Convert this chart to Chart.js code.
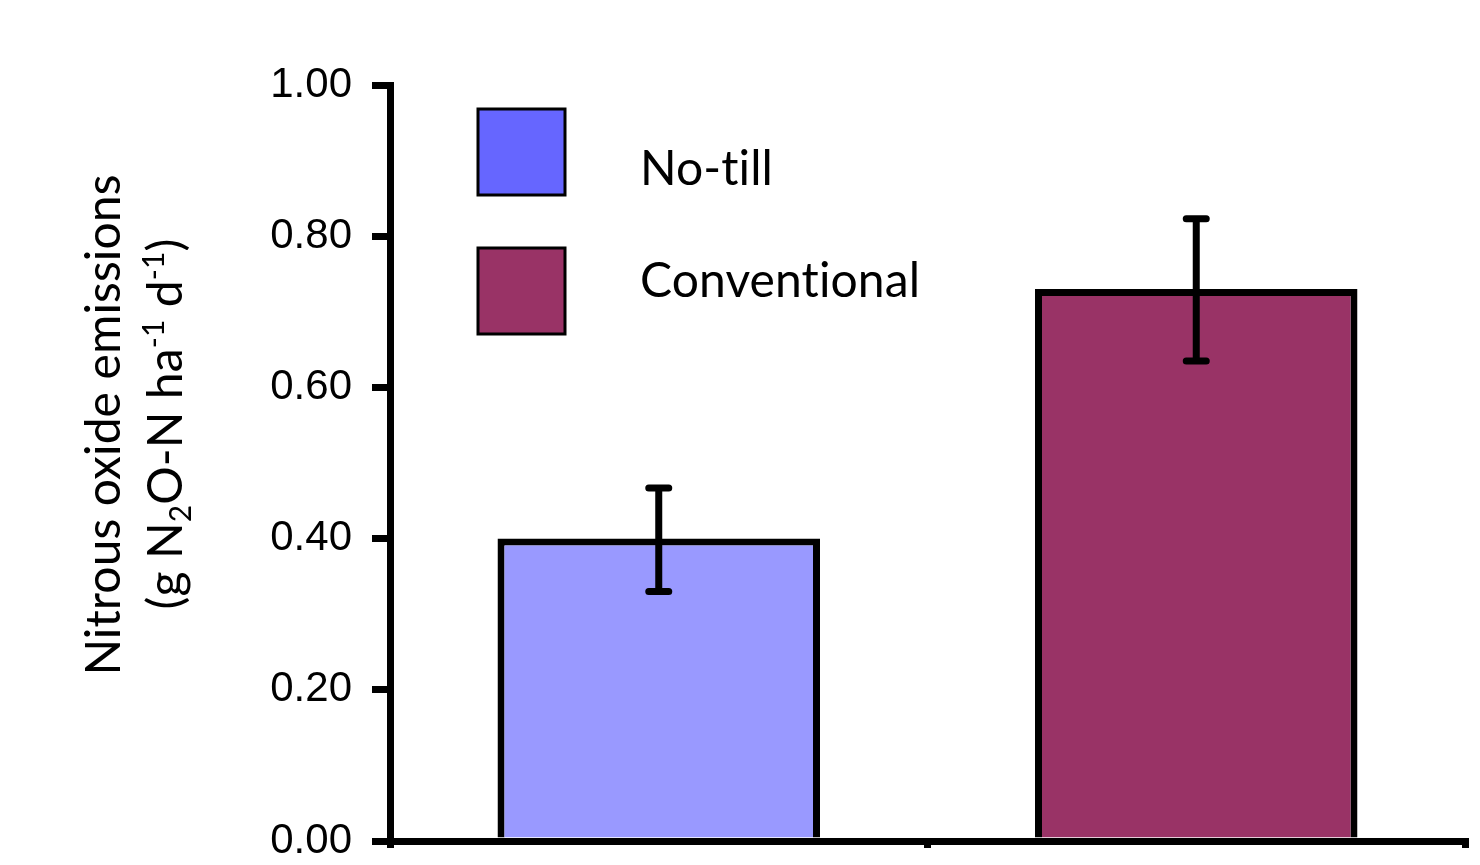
<!DOCTYPE html>
<html>
<head>
<meta charset="utf-8">
<script src="https://cdn.jsdelivr.net/npm/chart.js@4.4.1/dist/chart.umd.min.js"></script>
<style>
    html, body { margin: 0; padding: 0; background: #fff; }
    #wrap { width: 1480px; height: 865px; position: relative; }
</style>
</head>
<body>
<div id="wrap"><canvas id="chart"></canvas></div>
<script>
const categories = ['No-till', 'Conventional'];
const emissions = [0.40, 0.73];
const errLow = [0.33, 0.635];
const errHigh = [0.467, 0.823];
const barColors = ['#9999FF', '#993366'];
const legendColors = ['#6666FF', '#993366'];
const yTicks = [0, 0.2, 0.4, 0.6, 0.8, 1.0];

const titleLine1 = [{ t: 'Nitrous oxide emissions' }];
const titleLine2 = [
    { t: '(g N' }, { t: '2', sub: true }, { t: 'O-N ha' }, { t: '-1', sup: true },
    { t: ' d' }, { t: '-1', sup: true }, { t: ')' }
];

const TEXT_FONT = 'Lato, "Open Sans", sans-serif';

function drawRich(ctx, parts, size) {
    // measure first, then draw centred on 0
    let total = 0;
    const small = Math.round(size * 0.62);
    parts.forEach(p => {
        ctx.font = `${p.sub || p.sup ? small : size}px ${TEXT_FONT}`;
        p.w = ctx.measureText(p.t).width;
        total += p.w;
    });
    let x = -total / 2;
    parts.forEach(p => {
        ctx.font = `${p.sub || p.sup ? small : size}px ${TEXT_FONT}`;
        let dy = 0;
        if (p.sub) dy = size * 0.18;
        if (p.sup) dy = -size * 0.38;
        ctx.fillText(p.t, x, dy);
        x += p.w;
    });
}

const axisTitlePlugin = {
    id: 'axisTitle',
    afterDraw(chart) {
        const ctx = chart.ctx;
        [[titleLine1, 120, 425], [titleLine2, 182, 424]].forEach(([parts, bx, cy]) => {
            ctx.save();
            ctx.fillStyle = '#000';
            ctx.textBaseline = 'alphabetic';
            ctx.textAlign = 'left';
            ctx.letterSpacing = '0.1px';
            ctx.translate(bx, cy);
            ctx.rotate(-Math.PI / 2);
            drawRich(ctx, parts, 48);
            ctx.restore();
        });
    }
};

const legendBoxPlugin = {
    id: 'legendBox',
    afterDraw(chart) {
        const ctx = chart.ctx;
        const boxes = [{ y: 109, ty: 170 }, { y: 248, ty: 282 }];
        ctx.save();
        categories.forEach((name, i) => {
            ctx.fillStyle = legendColors[i];
            ctx.fillRect(478, boxes[i].y, 87, 86);
            ctx.strokeStyle = '#000';
            ctx.lineWidth = 3;
            ctx.strokeRect(478, boxes[i].y, 87, 86);
            ctx.fillStyle = '#000';
            ctx.font = `48px ${TEXT_FONT}`;
            ctx.letterSpacing = '0.1px';
            ctx.textBaseline = 'middle';
            ctx.textAlign = 'left';
            ctx.fillText(name, 640, boxes[i].ty);
        });
        ctx.restore();
    }
};

const errorBarPlugin = {
    id: 'errorBars',
    afterDatasetsDraw(chart) {
        const ctx = chart.ctx;
        const meta = chart.getDatasetMeta(0);
        const yScale = chart.scales.y;
        ctx.save();
        ctx.strokeStyle = '#000';
        ctx.lineWidth = 7;
        ctx.lineCap = 'round';
        meta.data.forEach((bar, i) => {
            const top = yScale.getPixelForValue(errHigh[i]);
            const bottom = yScale.getPixelForValue(errLow[i]);
            ctx.beginPath();
            ctx.moveTo(bar.x, top);
            ctx.lineTo(bar.x, bottom);
            ctx.moveTo(bar.x - 10, top);
            ctx.lineTo(bar.x + 10, top);
            ctx.moveTo(bar.x - 10, bottom);
            ctx.lineTo(bar.x + 10, bottom);
            ctx.stroke();
        });
        ctx.restore();
    }
};

const ctx = document.getElementById('chart').getContext('2d');
new Chart(ctx, {
    type: 'bar',
    data: {
        labels: categories,
        datasets: [{
            data: emissions,
            backgroundColor: barColors,
            borderColor: '#000',
            borderWidth: 7,
            barPercentage: 0.6,
            categoryPercentage: 1
        }]
    },
    options: {
        responsive: true,
        maintainAspectRatio: false,
        animation: false,
        layout: { padding: { top: 85, right: 15, left: 0, bottom: 0 } },
        plugins: {
            legend: { display: false },
            tooltip: { enabled: false }
        },
        scales: {
            x: {
                offset: true,
                grid: { offset: true, drawOnChartArea: false, drawTicks: true, tickLength: 7, lineWidth: 7, color: '#000' },
                border: { display: true, width: 7, color: '#000' },
                ticks: { display: false },
                afterFit(scale) { scale.height = 24; }
            },
            y: {
                min: 0,
                max: 1,
                afterBuildTicks(scale) { scale.ticks = yTicks.map(v => ({ value: v })); },
                grid: { drawOnChartArea: false, drawTicks: true, tickLength: 18, lineWidth: 7, color: '#000' },
                border: { display: true, width: 7, color: '#000' },
                ticks: {
                    padding: 20,
                    color: '#000',
                    font: { family: '"Liberation Sans", Arial, sans-serif', size: 42 },
                    callback: v => Number(v).toFixed(2)
                },
                afterFit(scale) {
                    scale.width = 390;
                    scale.paddingTop = 0;
                    scale.paddingBottom = 0;
                }
            }
        }
    },
    plugins: [errorBarPlugin, legendBoxPlugin, axisTitlePlugin]
});
</script>
</body>
</html>
